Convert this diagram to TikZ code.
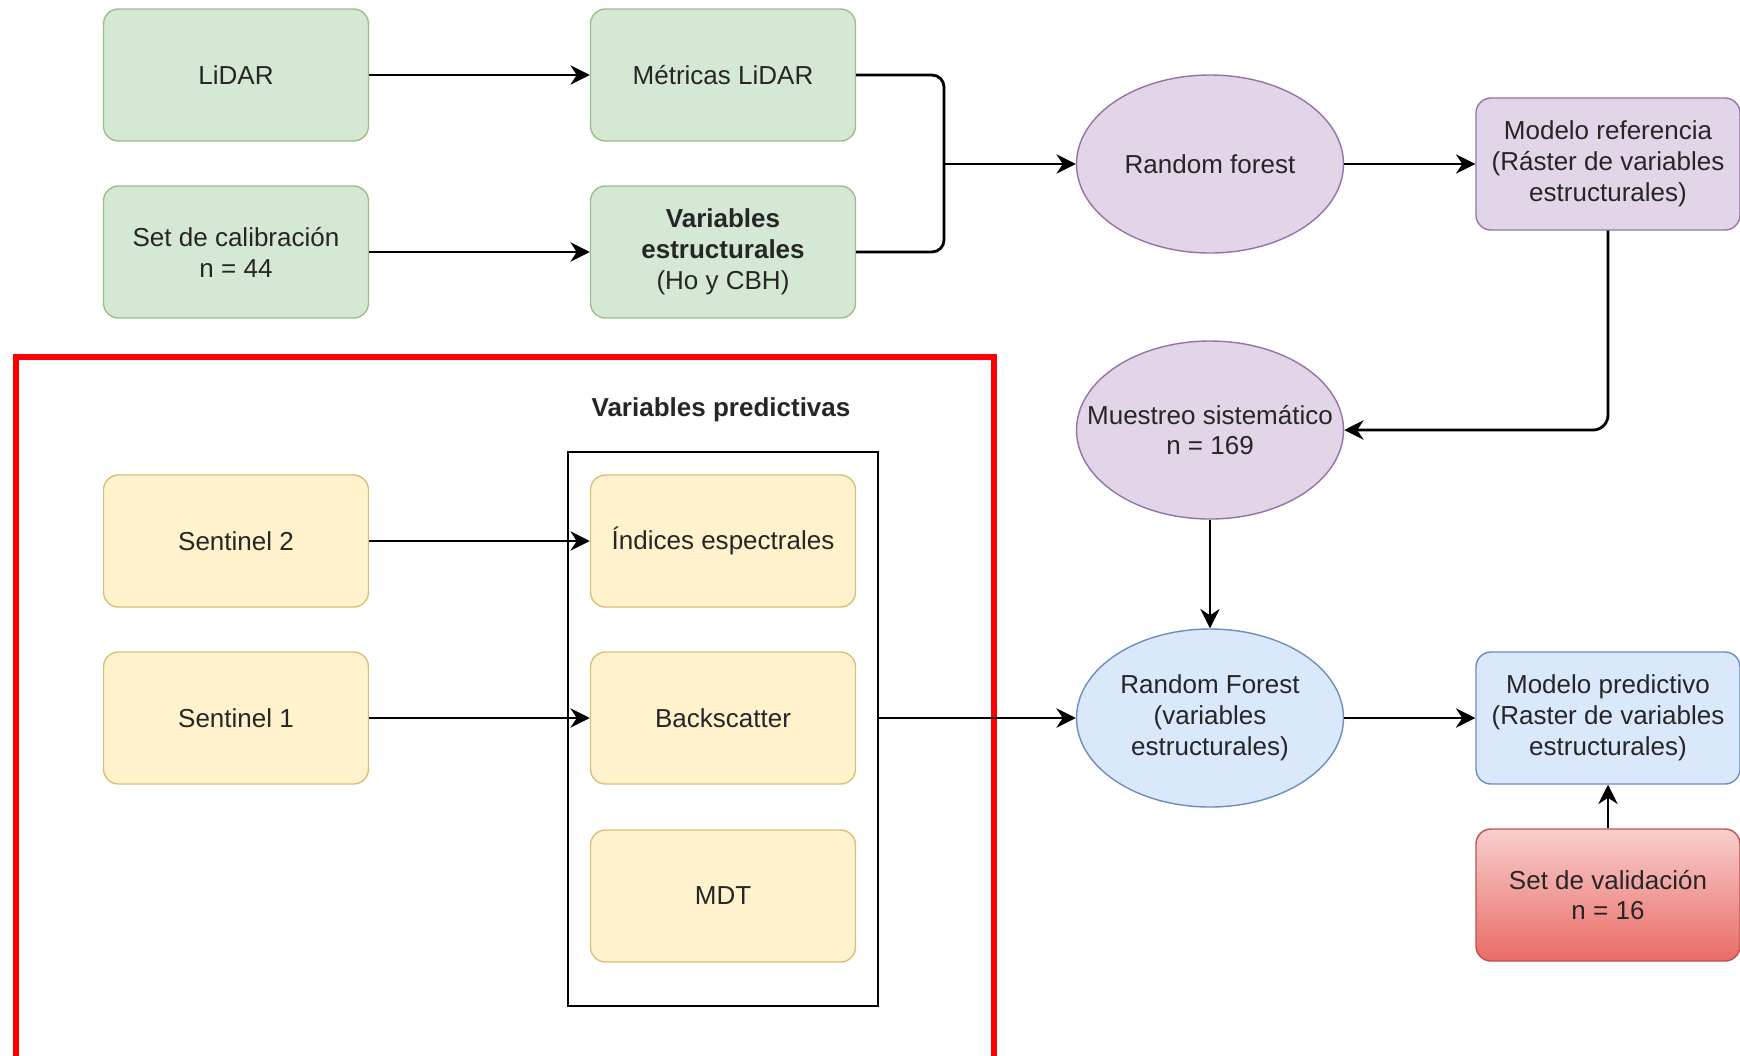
\documentclass[tikz,border=0pt]{standalone}
\usepackage{fontspec}
\setmainfont{Liberation Sans}
\usetikzlibrary{shapes.geometric,arrows.meta}

\definecolor{grnfill}{HTML}{D5E8D4}
\definecolor{grndraw}{HTML}{9CBF8A}
\definecolor{ylwfill}{HTML}{FFF2CC}
\definecolor{ylwdraw}{HTML}{D9C07A}
\definecolor{prpfill}{HTML}{E1D5E7}
\definecolor{prpdraw}{HTML}{9673A6}
\definecolor{blufill}{HTML}{DAE8FC}
\definecolor{bludraw}{HTML}{6C8EBF}
\definecolor{redtop}{HTML}{F8CECC}
\definecolor{redbot}{HTML}{EA6B66}
\definecolor{reddraw}{HTML}{B85450}
\definecolor{txt}{HTML}{262626}

\tikzset{
  box/.style={rectangle,rounded corners=0.15cm,minimum width=2.65cm,minimum height=1.32cm,inner sep=1pt,align=center,line width=0.4pt},
  greenbox/.style={box,fill=grnfill,draw=grndraw},
  yellowbox/.style={box,fill=ylwfill,draw=ylwdraw},
  purplebox/.style={box,fill=prpfill,draw=prpdraw},
  bluebox/.style={box,fill=blufill,draw=bludraw},
  redbox/.style={box,top color=redtop,bottom color=redbot,draw=reddraw},
  rfell/.style={ellipse,minimum width=2.67cm,minimum height=1.78cm,inner sep=0pt,align=center,line width=0.4pt},
  conn/.style={-{Stealth[length=5.5pt,width=5.5pt]},line width=0.8pt}
}

\begin{document}
\begin{tikzpicture}[font=\fontsize{7.4}{8.8}\selectfont,text=txt]
\useasboundingbox (0,0) rectangle (17.4,-10.55);

%marco rojo y grupo
\draw[red,line width=1.6pt] (0.16,-3.57) rectangle (9.94,-10.7);
\node[draw,line width=0.7pt,minimum width=3.1cm,minimum height=5.54cm] (vp) at (7.23,-7.29) {};
\node[font=\fontsize{7.4}{8.8}\selectfont\bfseries] (vptit) at (7.21,-4.10) {Variables predictivas};

%cajas
\node[greenbox] (lidar) at (2.36,-0.75) {LiDAR};
\node[greenbox] (metricas) at (7.23,-0.75) {Métricas LiDAR};
\node[greenbox] (calib) at (2.36,-2.52) {Set de calibración\\n = 44};
\node[greenbox] (varest) at (7.23,-2.52) {\textbf{Variables}\\\textbf{estructurales}\\(Ho y CBH)};

\node[yellowbox] (sent2) at (2.36,-5.41) {Sentinel 2};
\node[yellowbox] (indices) at (7.23,-5.41) {Índices espectrales};
\node[yellowbox] (sent1) at (2.36,-7.18) {Sentinel 1};
\node[yellowbox] (backsc) at (7.23,-7.18) {Backscatter};
\node[yellowbox] (mdt) at (7.23,-8.96) {MDT};

\node[rfell,fill=prpfill,draw=prpdraw] (rf1) at (12.10,-1.64) {Random forest};
\node[purplebox,minimum width=2.64cm] (modref) at (16.08,-1.64) {Modelo referencia\\(Ráster de variables\\estructurales)};
\node[rfell,fill=prpfill,draw=prpdraw] (muestreo) at (12.10,-4.30) {\makebox[1.8cm]{Muestreo sistemático}\\n = 169};

\node[rfell,fill=blufill,draw=bludraw] (rf2) at (12.10,-7.18) {Random Forest\\(variables\\estructurales)};
\node[bluebox,minimum width=2.64cm] (modpred) at (16.08,-7.18) {Modelo predictivo\\(Raster de variables\\estructurales)};
\node[redbox,minimum width=2.64cm] (valid) at (16.08,-8.95) {Set de validación\\n = 16};

%conexiones
\coordinate (jn) at (9.44,-1.64);
\draw[conn] (lidar) -- (metricas);
\draw[conn] (calib) -- (varest);
\draw[line width=0.8pt,rounded corners=0.12cm] (metricas.east) -| (jn);
\draw[line width=0.8pt,rounded corners=0.12cm] (varest.east) -| (jn);
\draw[conn] (jn) -- (rf1.west);
\draw[conn] (rf1) -- (modref);
\draw[conn,rounded corners=0.15cm] (modref.south) |- (muestreo.east);
\draw[conn] (muestreo) -- (rf2);
\draw[conn] (sent2) -- (indices);
\draw[conn] (sent1) -- (backsc);
\draw[conn] (vp.east |- backsc) -- (rf2.west);
\draw[conn] (rf2) -- (modpred);
\draw[conn] (valid) -- (modpred);

\end{tikzpicture}
\end{document}
